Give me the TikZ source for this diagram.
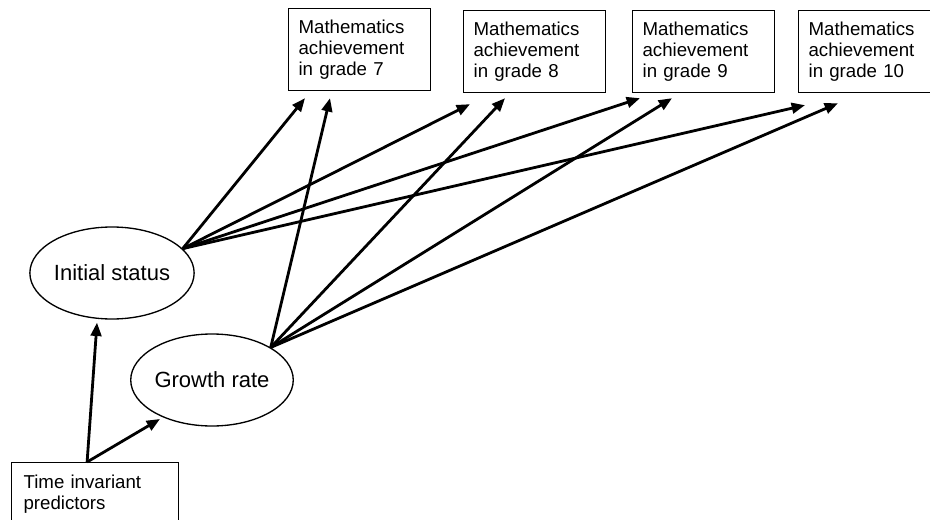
\documentclass[tikz,border=0pt]{standalone}
\usepackage{fontspec}
\setmainfont{Liberation Sans}
\usetikzlibrary{arrows.meta, shapes.geometric, calc}

\begin{document}
\begin{tikzpicture}[x=0.75pt, y=-0.75pt, >={Triangle[length=10pt, width=8pt]},
  grade/.style={draw, line width=0.9pt, anchor=north west, minimum width=106.5pt, minimum height=61.5pt,
    text width=91.5pt, inner xsep=7.5pt, align=left, font=\fontsize{14}{15.75}\selectfont},
  latent/.style={draw, ellipse, line width=1pt, minimum width=114pt, minimum height=69pt,
    inner sep=0pt, font=\fontsize{16.5}{18}\selectfont},
  effect/.style={->, line width=2.1pt}]
  \useasboundingbox (0,0) rectangle (930,520);
  \clip (0,0) rectangle (930,520);

  % repeated measures
  \node[grade] (g7) at (288,8) {Mathematics\\achievement\\in grade 7};
  \node[grade] (g8) at (463,10) {Mathematics\\achievement\\in grade 8};
  \node[grade] (g9) at (632,10) {Mathematics\\achievement\\in grade 9};
  \node[grade, minimum width=97.5pt] (g10) at (798,10) {Mathematics\\achievement\\in grade 10};

  % growth factors
  \node[latent] (init) at (112,273) {Initial status};
  \node[latent] (growth) at (212,380) {Growth rate};

  % predictors
  \node[draw, line width=0.9pt, anchor=north west, minimum width=125.25pt, text width=107.25pt,
    inner xsep=9pt, inner ysep=9pt, align=left, font=\fontsize{14}{15.75}\selectfont]
    (pred) at (11,462) {Time invariant\\predictors};
  \coordinate (src) at ($(pred.north)+(-8,0)$);

  % initial status loadings
  \draw[effect] (init.19) -- ($(g7.south west)+(17,7)$);
  \draw[effect] (init.19) -- ($(g8.south west)+(7,11)$);
  \draw[effect] (init.19) -- ($(g9.south west)+(8,5)$);
  \draw[effect] (init.19) -- ($(g10.south west)+(7,12)$);

  % growth rate loadings
  \draw[effect] (growth.29) -- ($(g7.south west)+(42,7)$);
  \draw[effect] (growth.29) -- ($(g8.south west)+(42,5)$);
  \draw[effect] (growth.29) -- ($(g9.south west)+(40,5)$);
  \draw[effect] (growth.29) -- ($(g10.south west)+(40,10)$);

  % predictor effects
  \draw[effect] (src) -- ($(init.south)+(-15,3)$);
  \draw[effect] (src) -- ($(growth.center)+(-52,39)$);
\end{tikzpicture}
\end{document}
